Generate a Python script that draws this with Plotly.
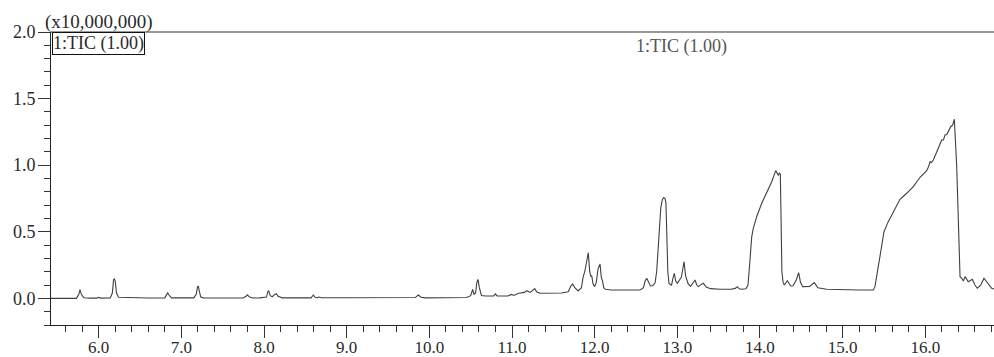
import plotly.graph_objects as go

# Retention time (min) and TIC intensity (x10,000,000)
rt = [5.423, 5.73, 5.76, 5.774, 5.79, 5.82, 5.9, 5.98, 6.0, 6.02, 6.14, 6.165, 6.18, 6.19, 6.2, 6.215, 6.24,
      6.4, 6.6, 6.8, 6.825, 6.835, 6.85, 6.88, 7.15, 7.18, 7.195, 7.205, 7.215, 7.235, 7.27, 7.5, 7.75,
      7.79, 7.80, 7.82, 7.86, 7.95, 8.03, 8.045, 8.056, 8.075, 8.10, 8.13, 8.149, 8.17, 8.22, 8.57, 8.596,
      8.62, 8.645, 8.66, 8.7, 9.0, 9.49, 9.505, 9.52, 9.83, 9.866, 9.90, 9.95, 10.19, 10.21, 10.23, 10.35,
      10.45, 10.50, 10.524, 10.54, 10.56, 10.575, 10.589, 10.605, 10.63, 10.68, 10.78, 10.80, 10.82,
      10.95, 10.996, 11.02, 11.08, 11.15, 11.178, 11.22, 11.25, 11.275, 11.30, 11.34, 11.60, 11.68,
      11.71, 11.734, 11.76, 11.80, 11.84, 11.86, 11.88, 11.90, 11.923, 11.94, 11.955, 11.965, 11.98,
      12.00, 12.02, 12.04, 12.065, 12.08, 12.095, 12.11, 12.13, 12.2, 12.55, 12.59, 12.61, 12.63, 12.65,
      12.675, 12.70, 12.73, 12.75, 12.775, 12.80, 12.82, 12.835, 12.85, 12.862, 12.872, 12.885, 12.90,
      12.93, 12.95, 12.964, 12.98, 13.00, 13.05, 13.07, 13.081, 13.10, 13.13, 13.16, 13.19, 13.214,
      13.235, 13.254, 13.29, 13.315, 13.35, 13.40, 13.52, 13.65, 13.70, 13.726, 13.75, 13.78, 13.83,
      13.855, 13.879, 13.90, 13.919, 13.96, 14.021, 14.081, 14.142, 14.19, 14.205, 14.222, 14.235,
      14.246, 14.255, 14.265, 14.28, 14.294, 14.331, 14.372, 14.40, 14.44, 14.468, 14.49, 14.517, 14.60,
      14.657, 14.70, 14.807, 15.0, 15.2, 15.371, 15.391, 15.431, 15.473, 15.500, 15.552, 15.613, 15.694,
      15.775, 15.855, 15.936, 16.017, 16.04, 16.057, 16.075, 16.097, 16.157, 16.198, 16.22, 16.238,
      16.26, 16.278, 16.307, 16.33, 16.351, 16.38, 16.404, 16.42, 16.441, 16.46, 16.481, 16.52, 16.569,
      16.60, 16.629, 16.67, 16.71, 16.75, 16.803, 16.831]

tic = [0.0, 0.0, 0.03, 0.065, 0.03, 0.005, 0.002, 0.002, 0.008, 0.002, 0.003, 0.04, 0.14, 0.146, 0.13, 0.04, 0.008,
       0.004, 0.003, 0.004, 0.03, 0.043, 0.025, 0.004, 0.004, 0.03, 0.085, 0.093, 0.06, 0.01, 0.004, 0.003, 0.003,
       0.02, 0.026, 0.012, 0.003, 0.004, 0.01, 0.05, 0.056, 0.02, 0.012, 0.03, 0.035, 0.015, 0.004, 0.004, 0.025,
       0.008, 0.005, 0.01, 0.005, 0.005, 0.005, 0.008, 0.005, 0.006, 0.025, 0.008, 0.004, 0.005, 0.009, 0.005, 0.006,
       0.006, 0.02, 0.068, 0.03, 0.04, 0.12, 0.143, 0.08, 0.022, 0.018, 0.018, 0.033, 0.018,
       0.018, 0.03, 0.022, 0.038, 0.045, 0.058, 0.045, 0.06, 0.073, 0.048, 0.038, 0.04, 0.05,
       0.09, 0.108, 0.08, 0.056, 0.08, 0.16, 0.20, 0.27, 0.343, 0.2, 0.163, 0.17, 0.11,
       0.088, 0.12, 0.22, 0.258, 0.16, 0.13, 0.08, 0.068, 0.063, 0.063, 0.08, 0.13, 0.151, 0.13,
       0.093, 0.095, 0.115, 0.2, 0.45, 0.68, 0.745, 0.755, 0.75, 0.72, 0.5, 0.2, 0.11,
       0.1, 0.16, 0.188, 0.13, 0.113, 0.16, 0.25, 0.276, 0.17, 0.11, 0.09, 0.12, 0.138,
       0.1, 0.088, 0.105, 0.113, 0.085, 0.073, 0.068, 0.068, 0.075, 0.088, 0.072, 0.068, 0.072,
       0.1, 0.288, 0.463, 0.526, 0.613, 0.714, 0.80, 0.876, 0.959, 0.94, 0.926, 0.94,
       0.934, 0.6, 0.2, 0.12, 0.1, 0.133, 0.093, 0.095, 0.14, 0.193, 0.12, 0.088, 0.09,
       0.118, 0.08, 0.068, 0.063, 0.063, 0.063, 0.088, 0.238, 0.414, 0.50, 0.576, 0.651, 0.744,
       0.789, 0.839, 0.909, 0.959, 0.99, 1.026, 1.02, 1.039, 1.127, 1.189, 1.19, 1.227,
       1.23, 1.252, 1.289, 1.30, 1.345, 0.989, 0.489, 0.163, 0.151, 0.13, 0.163, 0.125, 0.143,
       0.1, 0.076, 0.1, 0.151, 0.12, 0.076, 0.07]

x_tickvals = [6, 7, 8, 9, 10, 11, 12, 13, 14, 15, 16]
x_ticktext = ["6.0", "7.0", "8.0", "9.0", "10.0", "11.0", "12.0", "13.0", "14.0", "15.0", "16.0"]
y_tickvals = [0.0, 0.5, 1.0, 1.5, 2.0]
y_ticktext = ["0.0", "0.5", "1.0", "1.5", "2.0"]

scale_label = "(x10,000,000)"
trace_label = "1:TIC (1.00)"

FONT = "Liberation Serif"
TXT = "#2a2a2a"

fig = go.Figure()
fig.add_trace(go.Scatter(x=rt, y=tic, mode="lines",
                         line=dict(color="#404040", width=1.1),
                         hoverinfo="x+y", showlegend=False))

fig.update_layout(
    width=994, height=357,
    margin=dict(l=51, r=0, t=32, b=32, autoexpand=False),
    paper_bgcolor="white", plot_bgcolor="white",
    font=dict(family=FONT, size=18, color=TXT),
)

fig.update_xaxes(
    range=[5.423, 16.831], automargin=False,
    tickmode="array", tickvals=x_tickvals, ticktext=x_ticktext,
    ticks="outside", ticklen=12, tickwidth=1, tickcolor="#333",
    minor=dict(dtick=0.2, tick0=0, ticks="outside", ticklen=6, tickwidth=1, tickcolor="#333"),
    showline=True, linecolor="#222", linewidth=1,
    showgrid=False, zeroline=False, ticklabelstandoff=-5,
    tickfont=dict(family=FONT, size=17, color=TXT),
)
fig.update_yaxes(
    range=[-0.2, 2.0], automargin=False,
    tickmode="array", tickvals=y_tickvals, ticktext=y_ticktext,
    ticks="outside", ticklen=12, tickwidth=1, tickcolor="#333",
    minor=dict(dtick=0.1, tick0=0, ticks="outside", ticklen=6, tickwidth=1, tickcolor="#333"),
    showline=True, linecolor="#222", linewidth=1,
    showgrid=False, zeroline=False, ticklabelstandoff=-1,
    tickfont=dict(family=FONT, size=18, color=TXT),
)

# top frame line
fig.add_shape(type="line", xref="paper", yref="paper", x0=0, x1=1, y0=1, y1=1,
              line=dict(color="#777", width=1.5))

fig.add_annotation(text=scale_label, xref="paper", yref="paper", x=-0.009, y=1,
                   xanchor="left", yanchor="bottom", showarrow=False, yshift=-3,
                   font=dict(family=FONT, size=19, color=TXT))
fig.add_annotation(text=trace_label, xref="paper", yref="paper", x=0.001, y=1,
                   xanchor="left", yanchor="top", showarrow=False,
                   bordercolor="#111", borderwidth=1, borderpad=0,
                   font=dict(family=FONT, size=18, color=TXT))
fig.add_annotation(text=trace_label, xref="paper", yref="paper", x=0.669, y=1,
                   xanchor="center", yanchor="top", showarrow=False, yshift=-2,
                   font=dict(family=FONT, size=18, color="#555"))

fig.write_html("out.html", config={"displayModeBar": False},
               post_script="document.body.style.margin='0';document.body.style.padding='0';")
